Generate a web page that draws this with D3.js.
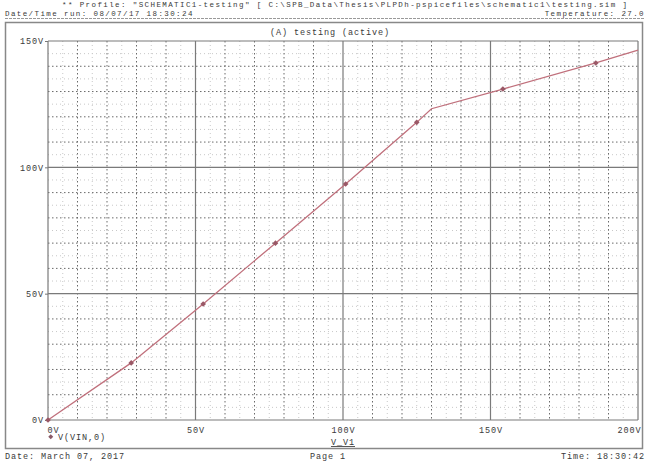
<!DOCTYPE html>
<html>
<head>
<meta charset="utf-8">
<script src="https://cdn.jsdelivr.net/npm/d3@7/dist/d3.min.js"></script>
<style>
  html, body { margin: 0; padding: 0; background: #fff; }
  svg { display: block; }
  text { font-family: "Liberation Mono", "DejaVu Sans Mono", monospace; fill: #3a3a3a; }
</style>
</head>
<body>
<svg id="chart" width="649" height="462"></svg>
<script>
// Sweep of V_V1 against the node voltage V(VIN,0)
const sweepV = [0, 28.2, 52.6, 77.1, 100.9, 125.0, 130.0, 154.2, 185.7, 200];
const vinV   = [0, 22.6, 45.9, 70.0, 93.4, 117.8, 123.2, 131.0, 141.3, 146.4];
// indices of the trace points that carry a symbol
const markerIdx = [0, 1, 2, 3, 4, 5, 7, 8];

const xTicks = [0, 50, 100, 150, 200];
const xTickLabels = ["0V", "50V", "100V", "150V", "200V"];
const yTicks = [0, 50, 100, 150];
const yTickLabels = ["0V", "50V", "100V", "150V"];

const headerProfile = '** Profile: "SCHEMATIC1-testing"  [ C:\\SPB_Data\\Thesis\\PLPDh-pspicefiles\\schematic1\\testing.sim ]';
const headerRun = "Date/Time run: 08/07/17 18:30:24";
const headerTemp = "Temperature: 27.0";
const plotTitle = "(A) testing (active)";
const xAxisTitle = "V_V1";
const legendLabel = "V(VIN,0)";
const footerDate = "Date: March 07, 2017";
const footerPage = "Page 1";
const footerTime = "Time: 18:30:42";

const svg = d3.select("#chart");
const plot = { left: 48, right: 638, top: 41, bottom: 420 };

const x = d3.scaleLinear().domain([0, 200]).range([plot.left, plot.right]);
const y = d3.scaleLinear().domain([0, 150]).range([plot.bottom, plot.top]);

const fs = 8.5, ls = 0.9;
function txt(g, s, px, py, anchor, size, spacing) {
  return g.append("text").attr("x", px).attr("y", py)
    .attr("font-size", size || fs).attr("letter-spacing", spacing == null ? ls : spacing)
    .attr("text-anchor", anchor || "start").text(s);
}

// page header
txt(svg, headerProfile, 62, 7, "start", 7.5, 1.4);
txt(svg, headerRun, 5, 15.5, "start", 7.5, 1.4);
txt(svg, headerTemp, 645, 15.5, "end", 7.5, 1.4);
svg.append("line").attr("x1", 5).attr("x2", 645).attr("y1", 18.5).attr("y2", 18.5)
  .attr("stroke", "#999").attr("stroke-dasharray", "3,1");

// outer frame
svg.append("rect").attr("x", 5.5).attr("y", 22.5).attr("width", 637).attr("height", 426)
  .attr("fill", "none").attr("stroke", "#888").attr("stroke-width", 1.5);

txt(svg, plotTitle, 270, 35);

const grid = svg.append("g");
// faint 5V dotted grid
d3.range(5, 200, 10).forEach(v => {
  grid.append("line").attr("x1", x(v)).attr("x2", x(v)).attr("y1", plot.top).attr("y2", plot.bottom)
    .attr("stroke", "#c8c8c8").attr("stroke-dasharray", "1,3");
});
d3.range(5, 150, 10).forEach(v => {
  grid.append("line").attr("x1", plot.left).attr("x2", plot.right).attr("y1", y(v)).attr("y2", y(v))
    .attr("stroke", "#c8c8c8").attr("stroke-dasharray", "1,3");
});
// 10V dotted grid
d3.range(10, 200, 10).filter(v => v % 50 !== 0).forEach(v => {
  grid.append("line").attr("x1", x(v)).attr("x2", x(v)).attr("y1", plot.top).attr("y2", plot.bottom)
    .attr("stroke", "#6a6a6a").attr("stroke-dasharray", "1.5,2.5");
});
d3.range(10, 150, 10).filter(v => v % 50 !== 0).forEach(v => {
  grid.append("line").attr("x1", plot.left).attr("x2", plot.right).attr("y1", y(v)).attr("y2", y(v))
    .attr("stroke", "#6a6a6a").attr("stroke-dasharray", "1.5,2.5");
});
// 50V solid grid
xTicks.forEach(v => {
  grid.append("line").attr("x1", x(v)).attr("x2", x(v)).attr("y1", plot.top).attr("y2", plot.bottom)
    .attr("stroke", "#7a7a7a").attr("stroke-width", 1.2);
});
yTicks.forEach(v => {
  grid.append("line").attr("x1", plot.left).attr("x2", plot.right).attr("y1", y(v)).attr("y2", y(v))
    .attr("stroke", "#7a7a7a").attr("stroke-width", 1.2);
});

// axes labels through d3 axes
const xAxis = d3.axisBottom(x).tickValues(xTicks).tickSize(0).tickPadding(7)
  .tickFormat((d, i) => xTickLabels[i]);
const gx = svg.append("g").attr("transform", `translate(0,${plot.bottom})`).call(xAxis);
gx.select(".domain").remove();
gx.selectAll("text").attr("font-size", fs).attr("letter-spacing", ls)
  .attr("font-family", '"Liberation Mono", monospace').attr("fill", "#3a3a3a");
gx.selectAll(".tick").filter(d => d === 0).select("text").attr("text-anchor", "start").attr("dx", -1);
gx.selectAll(".tick").filter(d => d === 200).select("text").attr("text-anchor", "end").attr("dx", 3);

const yAxis = d3.axisLeft(y).tickValues(yTicks).tickSize(3).tickPadding(1)
  .tickFormat((d, i) => yTickLabels[i]);
const gy = svg.append("g").attr("transform", `translate(${plot.left},0)`).call(yAxis);
gy.select(".domain").remove();
gy.selectAll("line").attr("stroke", "#777");
gy.selectAll("text").attr("font-size", fs).attr("letter-spacing", ls)
  .attr("font-family", '"Liberation Mono", monospace').attr("fill", "#3a3a3a");

// trace
const pts = sweepV.map((v, i) => [v, vinV[i]]);
svg.append("path").datum(pts)
  .attr("fill", "none").attr("stroke", "#c0707c").attr("stroke-width", 1.3)
  .attr("d", d3.line().x(d => x(d[0])).y(d => y(d[1])));

svg.append("g").selectAll("rect").data(markerIdx.map(i => pts[i])).join("rect")
  .attr("x", d => x(d[0]) - 2).attr("y", d => y(d[1]) - 2)
  .attr("width", 4).attr("height", 4)
  .attr("fill", "#9a5866").attr("transform", d => `rotate(45,${x(d[0])},${y(d[1])})`);

// legend
svg.append("rect").attr("x", 49).attr("y", 435).attr("width", 3.5).attr("height", 3.5)
  .attr("fill", "#8a5a66").attr("transform", "rotate(45,50.75,436.75)");
txt(svg, legendLabel, 58, 440);

// x-axis title
txt(svg, xAxisTitle, x(100), 445, "middle").attr("text-decoration", "underline");

// footer
txt(svg, footerDate, 5, 459);
txt(svg, footerPage, 328, 459, "middle");
txt(svg, footerTime, 645, 459, "end");
</script>
</body>
</html>
